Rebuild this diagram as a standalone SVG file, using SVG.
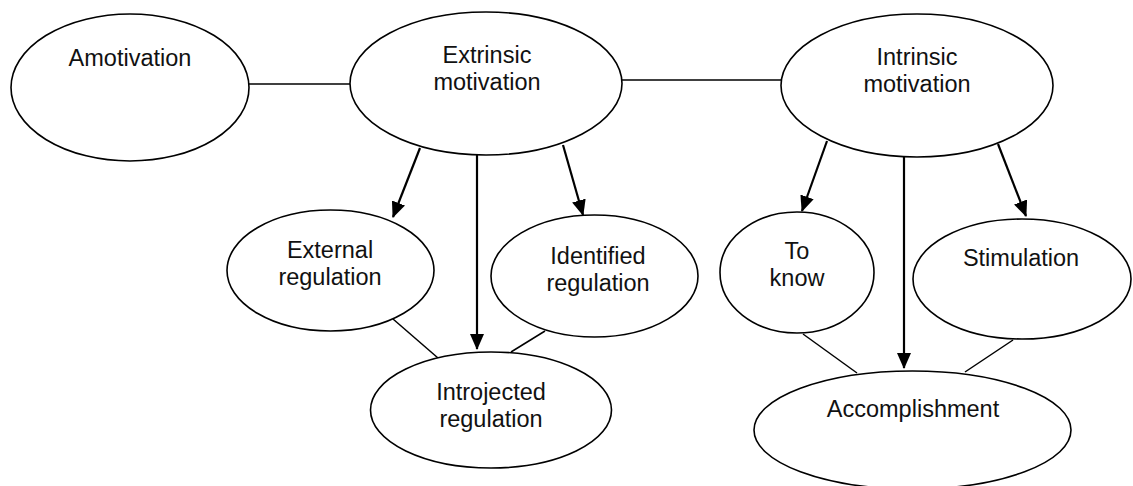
<svg xmlns="http://www.w3.org/2000/svg" width="1133" height="486" viewBox="0 0 1133 486">
<style>
.n{fill:#fff;stroke:#000;stroke-width:1.6}
.t{font-family:"Liberation Sans",Arial,sans-serif;font-size:23.5px;fill:#111;text-anchor:middle}
.c{stroke:#000;stroke-width:1.5;fill:none}
.a{stroke:#000;stroke-width:2.2;fill:none}
</style>
<defs>
<marker id="ah" markerUnits="userSpaceOnUse" markerWidth="16" markerHeight="14" refX="15" refY="7" orient="auto" viewBox="0 0 16 14">
<path d="M0,0 L16,7 L0,14 z" fill="#000"/>
</marker>
</defs>
<rect width="1133" height="486" fill="#fff"/>
<g id="connectors">
<line class="c" x1="249" y1="84" x2="350" y2="84"/>
<line class="c" x1="622" y1="80" x2="782" y2="80"/>
<line class="a" x1="420" y1="148" x2="393" y2="217" marker-end="url(#ah)"/>
<line class="a" x1="477" y1="155" x2="477" y2="349" marker-end="url(#ah)"/>
<line class="a" x1="563" y1="145" x2="583" y2="215" marker-end="url(#ah)"/>
<line class="a" x1="827" y1="141" x2="802" y2="211" marker-end="url(#ah)"/>
<line class="a" x1="904" y1="157" x2="904" y2="368" marker-end="url(#ah)"/>
<line class="a" x1="998" y1="144" x2="1026" y2="216" marker-end="url(#ah)"/>
<line class="c" x1="393" y1="319" x2="438" y2="358"/>
<line class="c" x1="545" y1="331" x2="511" y2="352"/>
<line class="c" x1="803" y1="334" x2="857" y2="373"/>
<line class="c" x1="1013" y1="340" x2="965" y2="372"/>
</g>
<g id="amotivation">
<ellipse class="n" cx="130" cy="87.5" rx="119" ry="73.5"/>
<text class="t" x="130" y="66">Amotivation</text>
</g>
<g id="extrinsic">
<ellipse class="n" cx="486" cy="83.5" rx="136" ry="71.5"/>
<text class="t" x="487" y="63">Extrinsic</text>
<text class="t" x="487" y="90">motivation</text>
</g>
<g id="intrinsic">
<ellipse class="n" cx="917" cy="85.5" rx="136" ry="71.5"/>
<text class="t" x="917" y="65">Intrinsic</text>
<text class="t" x="917" y="92">motivation</text>
</g>
<g id="external">
<ellipse class="n" cx="330.5" cy="270.5" rx="103.5" ry="60.5"/>
<text class="t" x="330" y="258">External</text>
<text class="t" x="330" y="285">regulation</text>
</g>
<g id="identified">
<ellipse class="n" cx="594.5" cy="276" rx="103.5" ry="61"/>
<text class="t" x="598" y="264">Identified</text>
<text class="t" x="598" y="291">regulation</text>
</g>
<g id="introjected">
<ellipse class="n" cx="491" cy="410" rx="120.5" ry="58"/>
<text class="t" x="491" y="400">Introjected</text>
<text class="t" x="491" y="427">regulation</text>
</g>
<g id="toknow">
<ellipse class="n" cx="797" cy="272.5" rx="77" ry="60.5"/>
<text class="t" x="797" y="259">To</text>
<text class="t" x="797" y="286">know</text>
</g>
<g id="stimulation">
<ellipse class="n" cx="1022" cy="279" rx="109" ry="60"/>
<text class="t" x="1021" y="266">Stimulation</text>
</g>
<g id="accomplishment">
<ellipse class="n" cx="912.5" cy="430" rx="158.5" ry="59"/>
<text class="t" x="913" y="417">Accomplishment</text>
</g>
</svg>
